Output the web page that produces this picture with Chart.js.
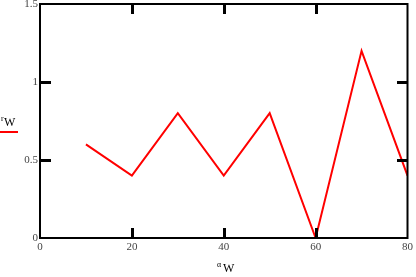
<!DOCTYPE html>
<html lang="en">
<head>
    <meta charset="UTF-8">
    <title>rw vs αw</title>
    <script src="https://cdn.jsdelivr.net/npm/chart.js@4/dist/chart.umd.min.js"></script>
    <style>
        html, body {margin: 0; padding: 0; background: #fff; overflow: hidden;}
        #box {position: relative; width: 416px; height: 277px;}
    </style>
</head>
<body>
<div id="box"><canvas id="chart"></canvas></div>
<script>
    // values
    const alphaW = [10, 20, 30, 40, 50, 60, 70, 80];
    const rW = [0.6, 0.4, 0.8, 0.4, 0.8, 0, 1.2, 0.4];
    const xTicks = [0, 20, 40, 60, 80];
    const yTicks = [0, 0.5, 1, 1.5];

    const labelFont = {family: "Liberation Serif", size: 11};

    // box around plot + inward ticks + legend / axis label text
    const frame = {
        id: 'plotFrame',
        afterDraw(chart) {
            const c = chart.ctx, a = chart.chartArea;
            const xs = chart.scales.x, ys = chart.scales.y;
            c.save();
            c.strokeStyle = '#000';
            c.lineWidth = 2;
            c.strokeRect(a.left, a.top, a.right - a.left, a.bottom - a.top);

            // legend: r over w, red line under
            c.fillStyle = '#000';
            c.font = '8px "Liberation Serif"';
            c.fillText('r', 1, 121);
            c.font = '12px "Liberation Serif"';
            c.fillText('W', 4, 126);

            // x label
            c.font = '8px "Liberation Serif"';
            c.fillText('α', 217, 267);
            c.font = '12px "Liberation Serif"';
            c.fillText('W', 223, 272);

            // inward ticks, black 2px
            xTicks.slice(1, -1).forEach(v => {
                const px = Math.round(xs.getPixelForValue(v));
                c.fillRect(px - 1, Math.round(a.bottom) - 10, 3, 10);
                c.fillRect(px - 1, Math.round(a.top), 3, 10);
            });
            yTicks.slice(1, -1).forEach(v => {
                const py = Math.round(ys.getPixelForValue(v));
                c.fillRect(Math.round(a.left), py - 1, 11, 3);
                c.fillRect(Math.round(a.right) - 11, py - 1, 11, 3);
            });

            c.fillStyle = 'red';
            c.fillRect(0, 131, 18, 2);
            c.restore();
        }
    };

    new Chart(document.getElementById('chart'), {
        type: 'line',
        data: {
            datasets: [{
                data: alphaW.map((x, i) => ({x: x, y: rW[i]})),
                borderColor: 'red',
                borderWidth: 2,
                pointRadius: 0,
                tension: 0,
                fill: false
            }]
        },
        options: {
            responsive: true,
            maintainAspectRatio: false,
            animation: false,
            layout: {padding: {top: 0, right: 6, left: 0, bottom: 0}},
            plugins: {legend: {display: false}, tooltip: {enabled: false}},
            scales: {
                x: {
                    type: 'linear', min: 0, max: 80,
                    afterBuildTicks: s => { s.ticks = xTicks.map(v => ({value: v})); },
                    afterFit: s => { s.height = 39; },
                    grid: {display: false, drawTicks: false},
                    border: {display: false},
                    ticks: {color: '#444', font: labelFont, padding: 3, maxRotation: 0}
                },
                y: {
                    type: 'linear', min: 0, max: 1.5,
                    afterBuildTicks: s => { s.ticks = yTicks.map(v => ({value: v})); },
                    afterFit: s => { s.width = 40; s.paddingTop = 4; },
                    grid: {display: false, drawTicks: false},
                    border: {display: false},
                    ticks: {color: '#444', font: labelFont, padding: 2, callback: v => String(v)}
                }
            }
        },
        plugins: [frame]
    });
</script>
</body>
</html>
